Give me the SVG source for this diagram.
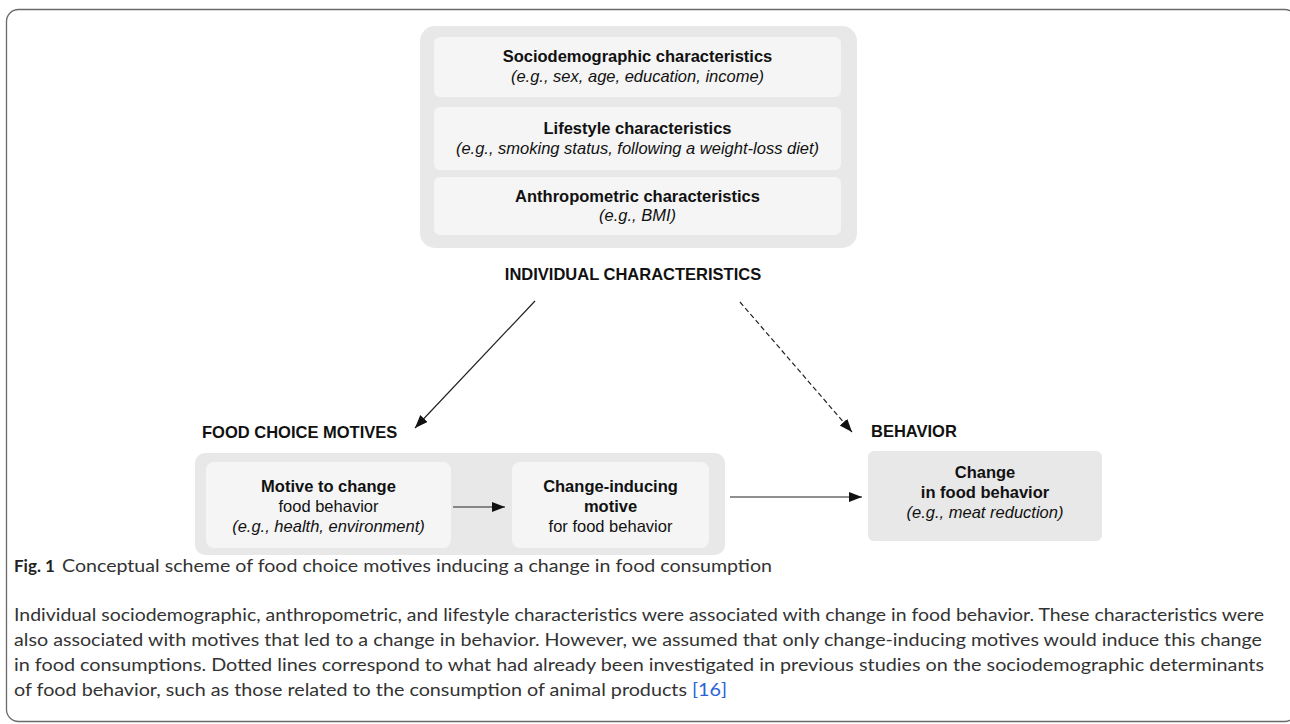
<svg xmlns="http://www.w3.org/2000/svg" width="1290" height="724" viewBox="0 0 1290 724">
<style>
.frame{fill:#fff;stroke:#6a6a6a;stroke-width:1.3}
.grp{fill:#e8e8e8}
.inner{fill:#f5f5f5}
.t{font-family:"Liberation Sans",Arial,sans-serif;font-size:16.5px;fill:#111;text-anchor:middle}
.b{font-weight:bold}
.i{font-style:italic}
.h{font-family:"Liberation Sans",Arial,sans-serif;font-size:16.5px;font-weight:bold;fill:#111}
.ln{stroke:#222;stroke-width:1.2;fill:none}
.dash{stroke-dasharray:5 3}
.cap{font-family:Lato,"Open Sans",sans-serif;font-size:17px;fill:#333}
.ref{fill:#2b63d9}
</style>
<defs>
<marker id="ah" markerUnits="userSpaceOnUse" markerWidth="14" markerHeight="12" refX="13" refY="5" orient="auto">
<path d="M0,0 L13,5 L0,10 Z" fill="#111"/>
</marker>
</defs>
<rect class="frame" x="6.5" y="9.5" width="1290" height="712" rx="12"/>

<g id="individual">
<rect class="grp" x="420" y="26" width="437" height="222" rx="15"/>
<rect class="inner" x="434" y="37" width="407" height="60" rx="6"/>
<rect class="inner" x="434" y="107" width="407" height="63" rx="6"/>
<rect class="inner" x="434" y="177" width="407" height="58" rx="6"/>
<text class="t b" x="637.5" y="62">Sociodemographic characteristics</text>
<text class="t i" x="637.5" y="82">(e.g., sex, age, education, income)</text>
<text class="t b" x="637.5" y="134">Lifestyle characteristics</text>
<text class="t i" x="637.5" y="154">(e.g., smoking status, following a weight-loss diet)</text>
<text class="t b" x="637.5" y="202">Anthropometric characteristics</text>
<text class="t i" x="637.5" y="221">(e.g., BMI)</text>
<text class="h" x="633" y="280" text-anchor="middle">INDIVIDUAL CHARACTERISTICS</text>
</g>

<g id="motives">
<text class="h" x="202" y="438">FOOD CHOICE MOTIVES</text>
<rect class="grp" x="195" y="453" width="530" height="102" rx="10"/>
<rect class="inner" x="206" y="462" width="245" height="86" rx="8"/>
<rect class="inner" x="512" y="462" width="197" height="86" rx="8"/>
<text class="t b" x="328.5" y="492">Motive to change</text>
<text class="t" x="328.5" y="512">food behavior</text>
<text class="t i" x="328.5" y="532">(e.g., health, environment)</text>
<text class="t b" x="610.5" y="492">Change-inducing</text>
<text class="t b" x="610.5" y="512">motive</text>
<text class="t" x="610.5" y="532">for food behavior</text>
</g>

<g id="behavior">
<text class="h" x="871" y="437">BEHAVIOR</text>
<rect class="grp" x="868" y="451" width="234" height="90" rx="6"/>
<text class="t b" x="985" y="478">Change</text>
<text class="t b" x="985" y="498">in food behavior</text>
<text class="t i" x="985" y="518">(e.g., meat reduction)</text>
</g>

<g id="connectors">
<line class="ln" x1="535" y1="301" x2="415" y2="428" marker-end="url(#ah)"/>
<line class="ln dash" x1="740" y1="302" x2="852" y2="432" marker-end="url(#ah)"/>
<line class="ln" x1="453" y1="507" x2="505" y2="507" marker-end="url(#ah)"/>
<line class="ln" x1="730" y1="497" x2="862" y2="497" marker-end="url(#ah)"/>
</g>

<g id="caption">
<text class="cap" x="14" y="572"><tspan font-weight="bold" fill="#222">Fig. 1</tspan></text>
<text class="cap" x="62" y="572" textLength="710" lengthAdjust="spacingAndGlyphs">Conceptual scheme of food choice motives inducing a change in food consumption</text>
<text class="cap" x="14" y="621" textLength="1250" lengthAdjust="spacingAndGlyphs">Individual sociodemographic, anthropometric, and lifestyle characteristics were associated with change in food behavior. These characteristics were</text>
<text class="cap" x="14" y="646" textLength="1248" lengthAdjust="spacingAndGlyphs">also associated with motives that led to a change in behavior. However, we assumed that only change-inducing motives would induce this change</text>
<text class="cap" x="14" y="671" textLength="1250" lengthAdjust="spacingAndGlyphs">in food consumptions. Dotted lines correspond to what had already been investigated in previous studies on the sociodemographic determinants</text>
<text class="cap" x="14" y="696" textLength="713" lengthAdjust="spacingAndGlyphs">of food behavior, such as those related to the consumption of animal products <tspan class="ref">[16]</tspan></text>
</g>
</svg>
